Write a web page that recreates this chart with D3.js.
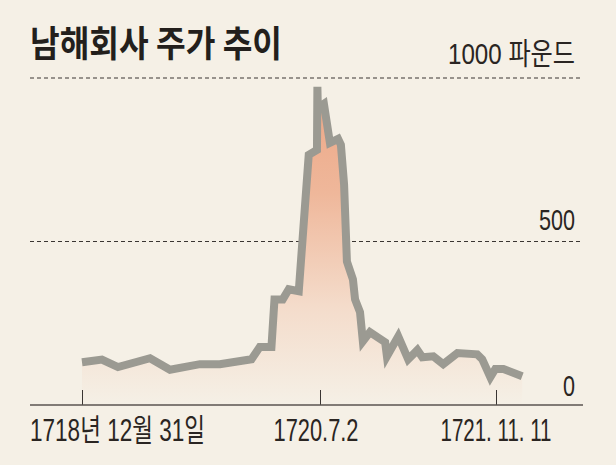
<!DOCTYPE html>
<html><head><meta charset="utf-8">
<script src="https://cdn.jsdelivr.net/npm/d3@7"></script>
<style>
html,body{margin:0;padding:0;background:#f5f0e6;}
svg{display:block;}
</style></head>
<body>
<script>
// ---- data ----
const title = "남해회사 주가 추이";
const dates = ["1718-12-31","1719-02-15","1719-03-24","1719-06-06","1719-07-22","1719-09-29","1719-11-14",
  "1720-01-26","1720-02-14","1720-03-12","1720-03-19","1720-04-07","1720-04-21","1720-05-14","1720-06-06",
  "1720-06-25","1720-06-26","1720-06-27","1720-07-13","1720-07-30","1720-08-22","1720-08-30","1720-09-08",
  "1720-09-16","1720-10-03","1720-10-09","1720-10-23","1720-10-31","1720-11-20","1721-01-02","1721-01-07",
  "1721-02-08","1721-03-08","1721-04-03","1721-04-17","1721-05-18","1721-06-15","1721-07-25","1721-09-19",
  "1721-10-03","1721-10-26","1721-11-09","1721-12-02","1722-01-24"];
const prices = [131,139,116,143,108,125,125,
  140,177,177,323,323,354,348,765,
  780,973,909,921,802,814,796,674,
  439,384,323,284,195,223,192,149,
  210,140,168,146,149,125,159,155,
  140,85,110,110,88];
const xTickDates = ["1718-12-31","1720-07-02","1721-11-11"];
const xTickLabels = ["1718년 12월 31일","1720.7.2","1721. 11. 11"];
const yTicks = [0,500,1000];
const yTickLabels = ["0","500","1000 파운드"];

// ---- layout ----
const W = 616, H = 465;
const plotLeft = 30, plotRight = 583;
const parse = d3.timeParse("%Y-%m-%d");

const svg = d3.select("body").append("svg").attr("width", W).attr("height", H);
svg.append("rect").attr("width", W).attr("height", H).attr("fill", "#f5f0e6");

const x = d3.scaleTime().domain(xTickDates.map(parse)).range([82, 320, 496]);
const y = d3.scaleLinear().domain([0, 1000]).range([405, 78]);

const data = dates.map((d, i) => ({date: parse(d), value: prices[i]}));

// gradient
const defs = svg.append("defs");
const grad = defs.append("linearGradient").attr("id", "fillGrad")
  .attr("gradientUnits", "userSpaceOnUse").attr("x1", 0).attr("x2", 0)
  .attr("y1", y(1000)).attr("y2", y(0));
grad.append("stop").attr("offset", "0%").attr("stop-color", "#eca584");
grad.append("stop").attr("offset", "35%").attr("stop-color", "#efb79a");
grad.append("stop").attr("offset", "70%").attr("stop-color", "#f4dccb");
grad.append("stop").attr("offset", "100%").attr("stop-color", "#f5f0e6");

// title
svg.append("text").attr("x", 30).attr("y", 57)
  .attr("font-family", "'Noto Sans CJK KR', sans-serif").attr("font-weight", 700)
  .attr("font-size", 36).attr("fill", "#231f1c")
  .attr("textLength", 252).attr("lengthAdjust", "spacingAndGlyphs")
  .text(title);

// grid lines (dashed) for 500 and 1000
svg.append("g").selectAll("line").data(yTicks.filter(v => v > 0)).join("line")
  .attr("x1", plotLeft).attr("x2", plotRight)
  .attr("y1", d => y(d)).attr("y2", d => y(d))
  .attr("stroke", "#3a3532").attr("stroke-width", 1.1).attr("stroke-dasharray", "4,3");

// area + line
svg.append("path").datum(data)
  .attr("d", d3.area().x(d => x(d.date)).y0(y(0)).y1(d => y(d.value)))
  .attr("fill", "url(#fillGrad)");
svg.append("path").datum(data)
  .attr("d", d3.line().x(d => x(d.date)).y(d => y(d.value)))
  .attr("fill", "none").attr("stroke", "#9b9a92").attr("stroke-width", 8)
  .attr("stroke-linejoin", "miter").attr("stroke-miterlimit", 4);

// x axis
const xAxis = d3.axisBottom(x).tickValues(xTickDates.map(parse)).tickSize(-15).tickFormat("");
const gx = svg.append("g").attr("transform", `translate(0,${y(0)})`).call(xAxis);
gx.select(".domain").remove();
gx.selectAll(".tick line").attr("stroke", "#3a3532").attr("stroke-width", 1);
svg.append("line").attr("x1", plotLeft).attr("x2", plotRight).attr("y1", y(0)).attr("y2", y(0))
  .attr("stroke", "#5a5550").attr("stroke-width", 1.5);

const labelFont = "'Liberation Sans', 'Noto Sans CJK KR', sans-serif";
const xLabelSpec = [
  {anchor: "start", x: 30, len: 175},
  {anchor: "middle", x: x(parse(xTickDates[1])) - 4, len: 85},
  {anchor: "middle", x: x(parse(xTickDates[2])), len: 111}
];
svg.append("g").selectAll("text").data(xTickLabels).join("text")
  .attr("x", (d, i) => xLabelSpec[i].x).attr("y", 441)
  .attr("text-anchor", (d, i) => xLabelSpec[i].anchor)
  .attr("font-family", labelFont).attr("font-size", 31).attr("fill", "#2a2522")
  .attr("textLength", (d, i) => xLabelSpec[i].len).attr("lengthAdjust", "spacingAndGlyphs")
  .text(d => d);

// y labels
const yLabelLen = [12, 36, 127];
const yLabelOff = [9, 12, 14];
svg.append("g").selectAll("text").data(yTickLabels).join("text")
  .attr("x", 575).attr("y", (d, i) => y(yTicks[i]) - yLabelOff[i])
  .attr("text-anchor", "end")
  .attr("font-family", labelFont).attr("font-size", 30).attr("fill", "#2a2522")
  .attr("textLength", (d, i) => yLabelLen[i]).attr("lengthAdjust", "spacingAndGlyphs")
  .text(d => d);
</script>
</body></html>
